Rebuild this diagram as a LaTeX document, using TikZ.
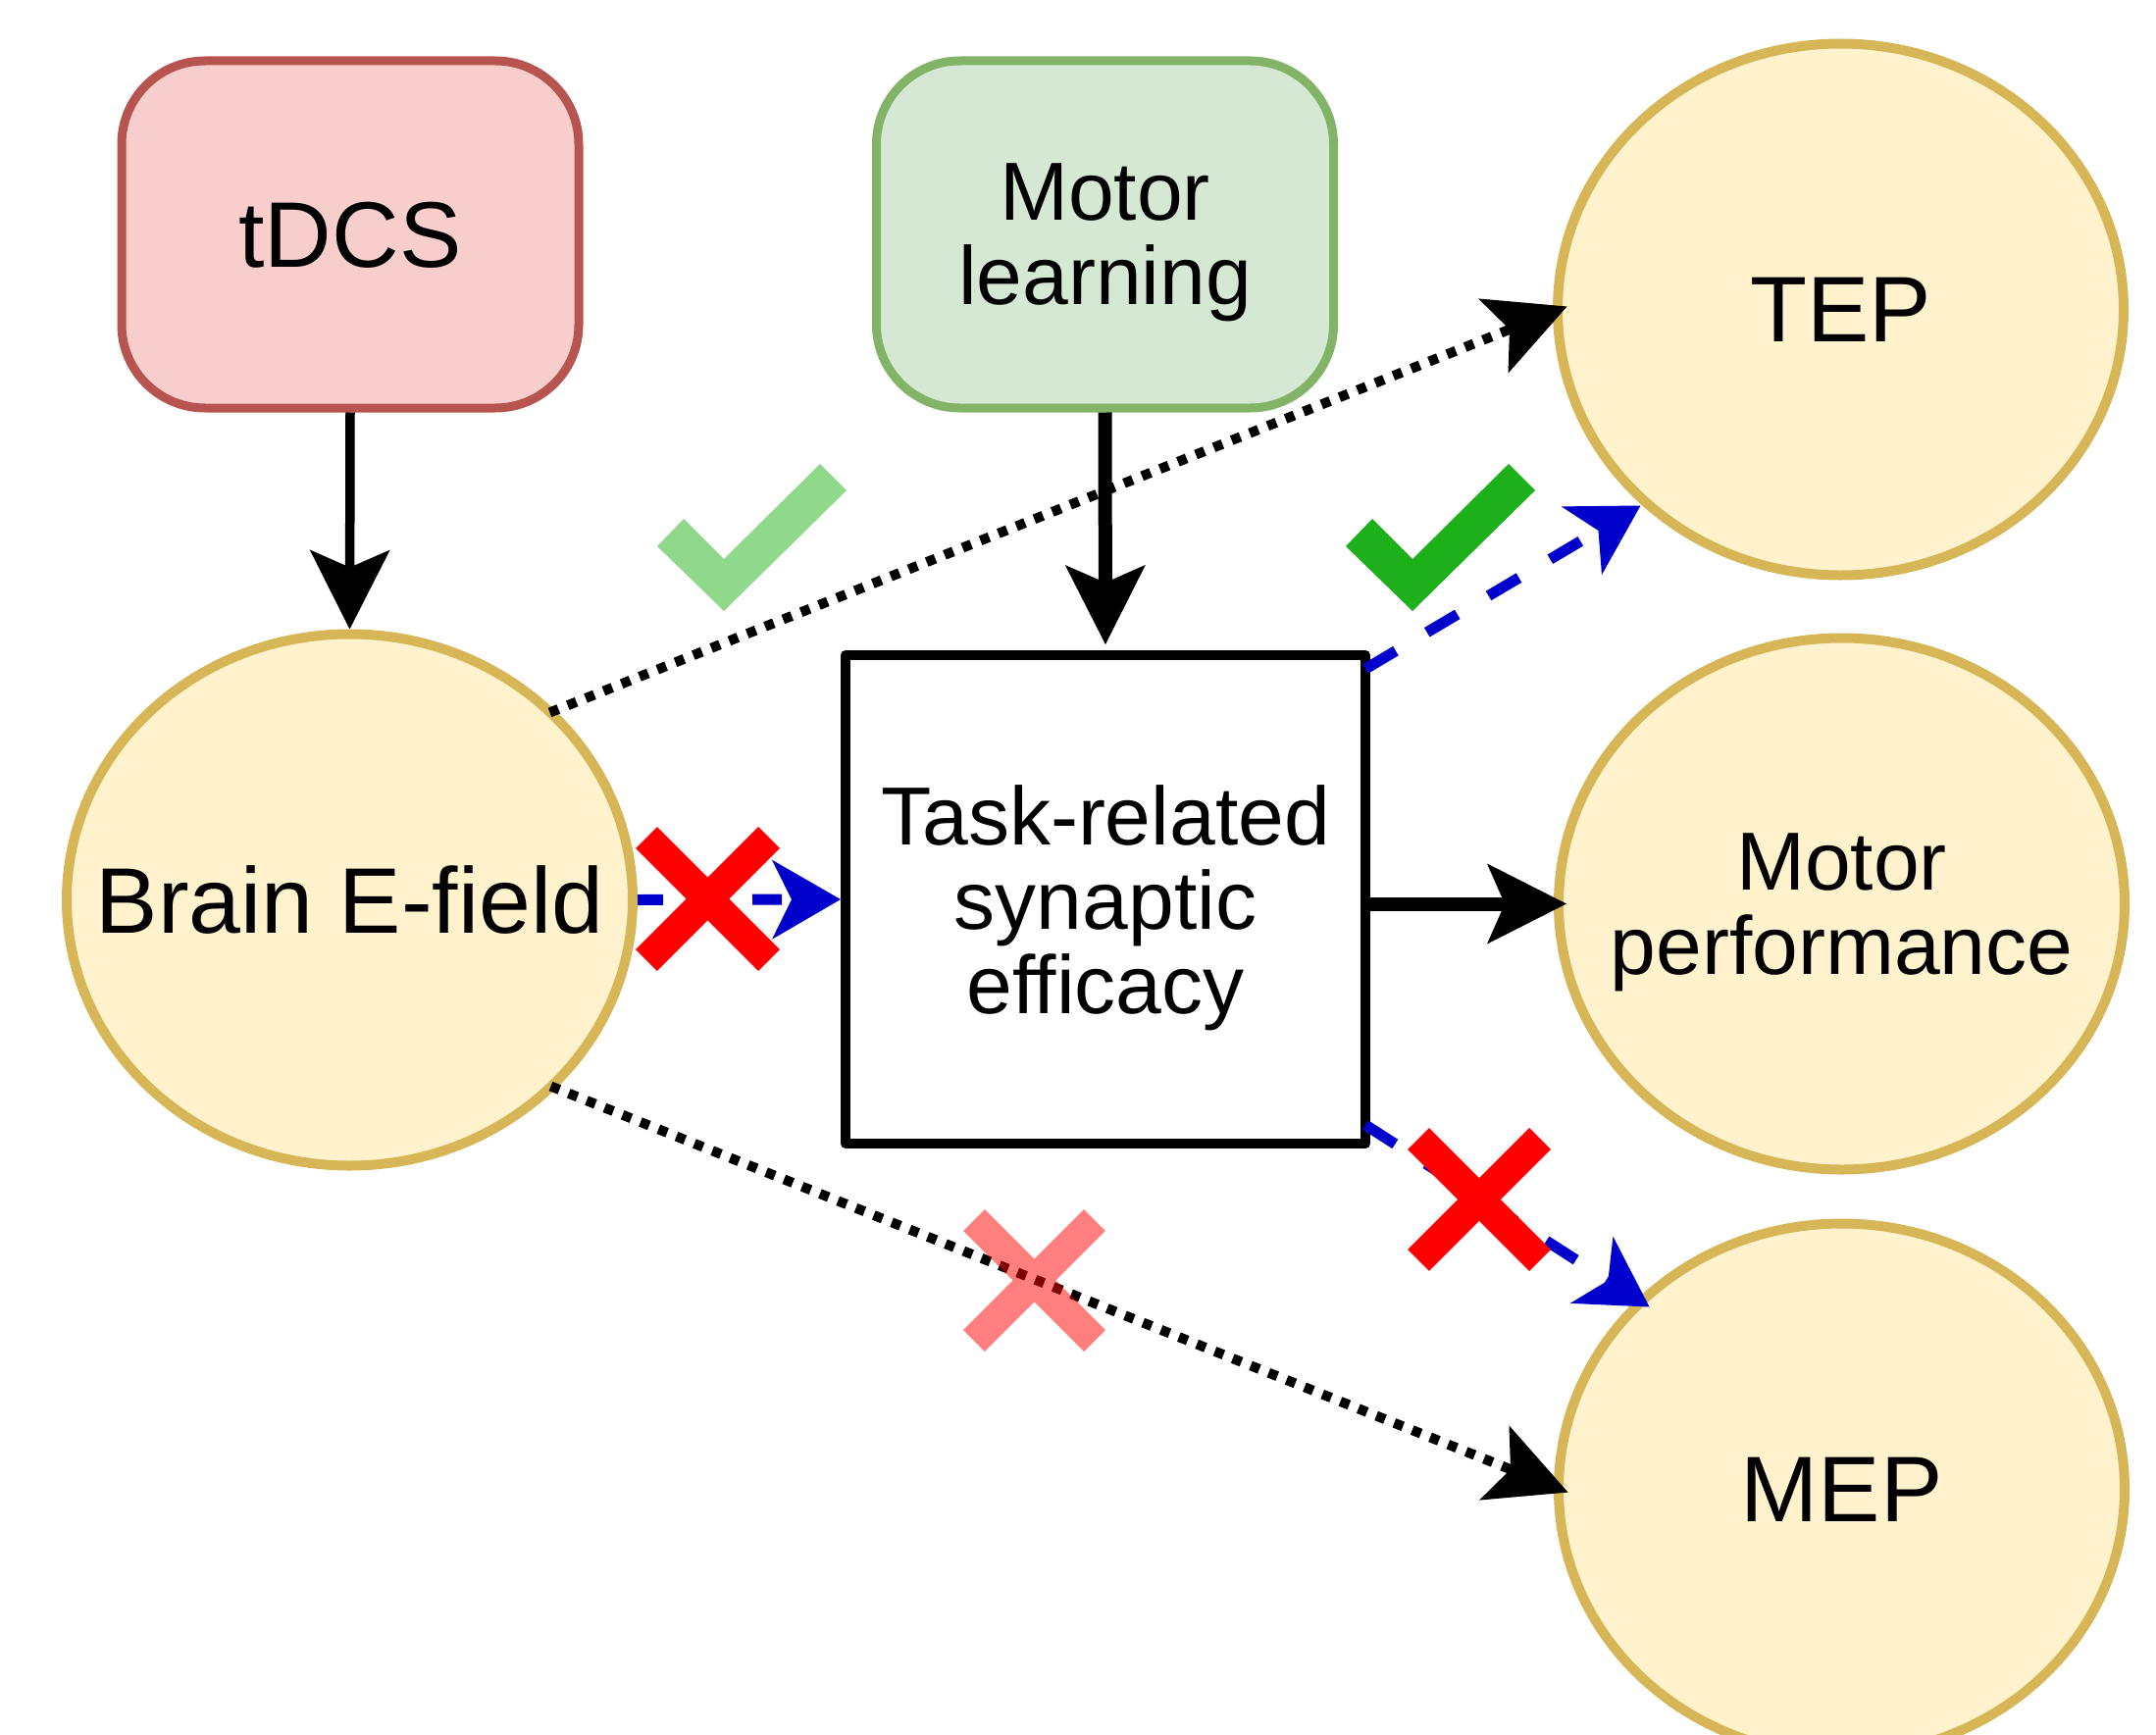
\documentclass[tikz,border=0pt]{standalone}
\usepackage{fontspec}
\setmainfont{Liberation Sans}
\usetikzlibrary{arrows.meta,shapes.geometric,calc}
\definecolor{tdcsfill}{HTML}{F8CECC}
\definecolor{tdcsline}{HTML}{B85450}
\definecolor{mlfill}{HTML}{D5E8D4}
\definecolor{mlline}{HTML}{82B366}
\definecolor{ellfill}{HTML}{FFF2CC}
\definecolor{ellline}{HTML}{D6B656}
\definecolor{dblue}{HTML}{0000CC}
\definecolor{chkgreen}{RGB}{29,176,26}
\definecolor{chklight}{RGB}{143,216,140}
\definecolor{xred}{HTML}{FF0000}
\newcommand{\zw}[1]{\makebox[0pt][c]{#1}}
\begin{document}
\begin{tikzpicture}[x=1pt,y=-1pt,
  bigfont/.style={font=\fontsize{95}{114}\selectfont},
  midfont/.style={font=\fontsize{84}{86}\selectfont},
  rbox/.style={draw, rounded corners=85pt, line width=9pt, minimum width=466pt, minimum height=354pt, inner sep=0pt, align=center, text depth=0pt},
  ell/.style={ellipse, draw=ellline, fill=ellfill, line width=10pt, minimum width=577pt, minimum height=542pt, inner sep=0pt, align=center, text depth=0pt},
  taskbox/.style={draw=black, fill=white, line width=10pt, line join=round, minimum width=530pt, minimum height=498pt, inner sep=0pt, align=center, text depth=0pt},
  arr/.style={-{Stealth[length=81pt,width=82pt,inset=18pt,line width=0pt]}},
  solidthin/.style={arr, line width=9.5pt},
  solidthick/.style={arr, line width=14pt},
  bluedash/.style={draw=dblue, line width=11pt, -{Stealth[length=70pt,width=81pt,inset=20pt,line width=0pt]}},
  dotline/.style={arr, line width=10pt, dash pattern=on 9.5pt off 10.2pt},
  xmark/.style={line width=31pt, line cap=butt},
]
\useasboundingbox (0,0) rectangle (2198,1769);
\clip (0,0) rectangle (2198,1769);

% nodes
\node[rbox, draw=tdcsline, fill=tdcsfill, bigfont] (tdcs) at (357,239) {tDCS};
\node[rbox, draw=mlline, fill=mlfill, midfont] (ml) at (1126.5,239) {Motor\\learning};
\node[ell, bigfont] (brain) at (356.5,917.5) {\zw{Brain E-field}};
\node[taskbox, midfont] (task) at (1127,917) {Task-related\\synaptic\\efficacy};
\node[ell, bigfont] (TEP) at (1876.5,315.5) {\zw{TEP}};
\node[ell, midfont] (MP) at (1877.5,921.5) {\zw{Motor}\\\zw{performance}};
\node[ell, bigfont] (MEP) at (1877.5,1518.5) {\zw{MEP}};

% solid connectors
\draw[solidthin] (tdcs.south) -- (brain.north);
\draw[solidthick, shorten >=6pt] (ml.south) -- (task.north);
\draw[solidthick, shorten >=-13pt] (task.east |- MP.west) -- (MP.west);

% dotted connectors
\draw[dotline] ($(brain.center)+(204,-191)$) -- ($(TEP.center)+(-279,-3)$);
\draw[dotline] ($(brain.center)+(205,190)$) -- ($(MEP.center)+(-279,3)$);

% blue dashed connectors
\draw[bluedash, dash pattern=on 30pt off 30.5pt, dash phase=4pt] (brain.east) -- (task.west);
\draw[bluedash, dash pattern=on 36pt off 37pt] ($(task.center)+(265,-235)$) -- ($(TEP.center)+(-204,200)$);
\draw[bluedash, dash pattern=on 36pt off 37pt] ($(task.center)+(265,230)$) -- ($(MEP.center)+(-196,-186)$);

% check marks
\fill[chklight] (670,557) -- (697,529) -- (738,570) -- (836,473) -- (863,500) -- (738,623) -- cycle;
\fill[chkgreen] (1372,557) -- (1399,529) -- (1440,570) -- (1538,473) -- (1565,500) -- (1440,623) -- cycle;

% crosses
\draw[xmark, xred] (659,854) -- (784,979) (784,854) -- (659,979);
\draw[xmark, xred] (1446,1161) -- (1570,1285) (1570,1161) -- (1446,1285);
\draw[xmark, xred, draw opacity=0.5] (993,1244) -- (1116,1367) (1116,1244) -- (993,1367);
\end{tikzpicture}
\end{document}
